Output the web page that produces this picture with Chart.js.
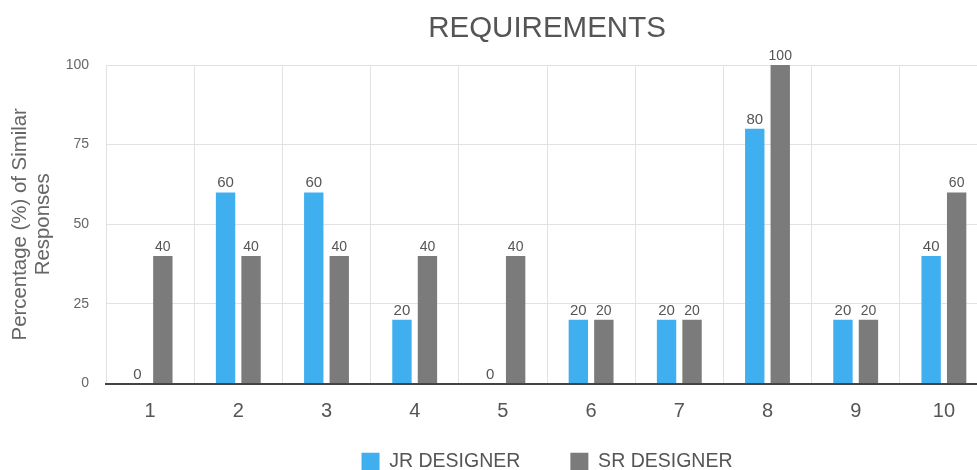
<!DOCTYPE html>
<html>
<head>
<meta charset="utf-8">
<script src="https://cdn.jsdelivr.net/npm/chart.js@4/dist/chart.umd.min.js"></script>
<style>
  html, body { margin: 0; padding: 0; background: #fff; overflow: hidden; width: 977px; height: 470px; }
  #wrap { width: 1000px; height: 470px; }
</style>
</head>
<body>
<div id="wrap"><canvas id="c" width="1000" height="470"></canvas></div>
<script>
const categories = ['1', '2', '3', '4', '5', '6', '7', '8', '9', '10'];
const jrDesigner = [0, 60, 60, 20, 0, 20, 20, 80, 20, 40];
const srDesigner = [40, 40, 40, 40, 40, 20, 20, 100, 20, 60];
const seriesNames = ['JR DESIGNER', 'SR DESIGNER'];
const yTicks = [0, 25, 50, 75, 100];

const FONT = "'Liberation Sans', Arial, Helvetica, sans-serif";

const valueLabels = {
  id: 'valueLabels',
  afterDatasetsDraw(chart) {
    const ctx = chart.ctx;
    ctx.save();
    ctx.textAlign = 'center';
    ctx.textBaseline = 'alphabetic';
    ctx.fillStyle = '#555';
    chart.data.datasets.forEach((ds, di) => {
      const meta = chart.getDatasetMeta(di);
      ctx.font = (di === 0 ? '15px ' : '14px ') + FONT;
      meta.data.forEach((el, i) => {
        const v = ds.data[i];
        ctx.fillText(String(v), el.x, el.y - 5);
      });
    });
    ctx.restore();
  }
};

new Chart(document.getElementById('c'), {
  type: 'bar',
  data: {
    labels: categories,
    datasets: [
      { label: seriesNames[0], data: jrDesigner, backgroundColor: '#3faff0', borderWidth: 0,
        categoryPercentage: 0.578, barPercentage: 0.76 },
      { label: seriesNames[1], data: srDesigner, backgroundColor: '#7b7b7b', borderWidth: 0,
        categoryPercentage: 0.578, barPercentage: 0.76 }
    ]
  },
  options: {
    responsive: false,
    animation: false,
    devicePixelRatio: 1,
    layout: { padding: { left: 0, right: 12, top: 0, bottom: 0 } },
    plugins: {
      title: {
        display: true,
        text: 'REQUIREMENTS',
        fullSize: false,
        color: '#555',
        font: { family: FONT, size: 29.5, weight: 'normal', lineHeight: 1.2 },
        padding: { top: 11, bottom: 18.6 }
      },
      legend: {
        position: 'bottom',
        fullSize: false,
        maxHeight: 68,
        labels: {
          boxWidth: 18,
          boxHeight: 18,
          padding: 50,
          color: '#555',
          font: { family: FONT, size: 19.5 }
        }
      },
      tooltip: { enabled: false }
    },
    scales: {
      x: {
        grid: { display: true, color: '#e2e2e2', lineWidth: 1, drawTicks: false, offset: true },
        border: { display: true, color: '#444', width: 2 },
        ticks: { color: '#555', font: { family: FONT, size: 20 }, padding: -40, mirror: true },
        afterFit(scale) { scale.height = 18.5; }
      },
      y: {
        min: 0,
        max: 100,
        afterBuildTicks(scale) { scale.ticks = yTicks.map(v => ({ value: v })); },
        grid: { color: '#e2e2e2', lineWidth: 1, drawTicks: false },
        border: { display: false },
        ticks: { color: '#666', font: { family: FONT, size: 14 }, padding: 17 },
        title: {
          display: true,
          text: ['Percentage (%) of Similar', 'Responses'],
          color: '#666',
          font: { family: FONT, size: 20.4, lineHeight: 1.13 },
          padding: { top: 9, bottom: 0 }
        },
        afterFit(scale) { scale.width = 106; }
      }
    }
  },
  plugins: [valueLabels]
});
</script>
</body>
</html>
